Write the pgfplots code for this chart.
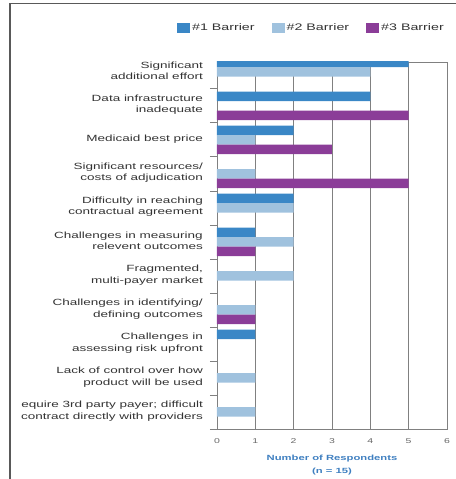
\documentclass[border=0pt]{standalone}
\usepackage{pgfplots}
\pgfplotsset{compat=1.18}
\usepackage{fontspec}
\setmainfont{Liberation Sans}[FakeStretch=1.5]
\definecolor{bOne}{HTML}{3A87C6}
\definecolor{bTwo}{HTML}{A0C2DE}
\definecolor{bThree}{HTML}{8B3D98}
\definecolor{lblue}{HTML}{3F7FC0}
\definecolor{txt}{HTML}{333333}
\definecolor{gridc}{HTML}{808080}
\begin{document}
\begin{tikzpicture}
\useasboundingbox (-217pt,-50pt) rectangle (238pt,429pt);
\draw[gray!70!black, line width=1.3pt] (-207pt,-80pt) -- (-207pt,425.5pt) -- (260pt,425.5pt);
\begin{axis}[
  at={(0pt,0pt)}, anchor=south west,
  scale only axis, width=230pt, height=367pt,
  xmin=0, xmax=6, ymin=0.5, ymax=11.29,
  xbar, bar width=9.5pt,
  xtick={0,...,6},
  ytick={1,...,11},
  yticklabels={
    {equire 3rd party payer; difficult\\contract directly with providers},
    {Lack of control over how\\product will be used},
    {Challenges in\\assessing risk upfront},
    {Challenges in identifying/\\defining outcomes},
    {Fragmented,\\multi-payer market},
    {Challenges in measuring\\relevent outcomes},
    {Difficulty in reaching\\contractual agreement},
    {Significant resources/\\costs of adjudication},
    {Medicaid best price},
    {Data infrastructure\\inadequate},
    {Significant\\additional effort}},
  minor ytick={0.5,1.5,...,10.5},
  major tick length=0pt, minor tick length=7pt, tick align=outside,
  minor tick style={gridc, line width=0.8pt},
  xtick pos=bottom, ytick pos=left,
  xmajorgrids, grid style={gridc, line width=0.9pt},
  axis line style={gridc, line width=0.9pt},
  /pgf/number format/assume math mode=true,
  xticklabel style={font=\fontsize{7}{8}\selectfont, text=black!60, yshift=-6pt},
  yticklabel style={align=right, font=\fontsize{9}{11.5}\selectfont, text=txt, inner sep=0pt, xshift=-14pt, yshift=1pt},
  xlabel={Number of Respondents\\(n = 15)},
  xlabel style={at={(axis description cs:0.5,0)}, anchor=north, yshift=-26pt, align=center, font=\bfseries\fontsize{7.5}{12.5}\selectfont, text=lblue, inner sep=0pt},
  legend style={at={(1,1)}, anchor=south east, xshift=2pt, yshift=26pt, draw=none, fill=none, legend columns=3, font=\fontsize{9.5}{10}\selectfont, text=txt, /tikz/every even column/.append style={column sep=15pt}},
  legend image code/.code={\fill[#1] (0pt,-5pt) rectangle (13pt,5pt);},
]
\addplot[fill=bOne, draw=none, bar shift=9.5pt] coordinates {(5,11) (4,10) (2,9) (2,7) (1,6) (1,3)};
\addplot[fill=bTwo, draw=none, bar shift=0pt] coordinates {(4,11) (1,9) (1,8) (2,7) (2,6) (2,5) (1,4) (1,2) (1,1)};
\addplot[fill=bThree, draw=none, bar shift=-9.5pt] coordinates {(5,10) (3,9) (5,8) (1,6) (1,4)};
\legend{\#1 Barrier, \#2 Barrier, \#3 Barrier}
\end{axis}
\end{tikzpicture}
\end{document}
